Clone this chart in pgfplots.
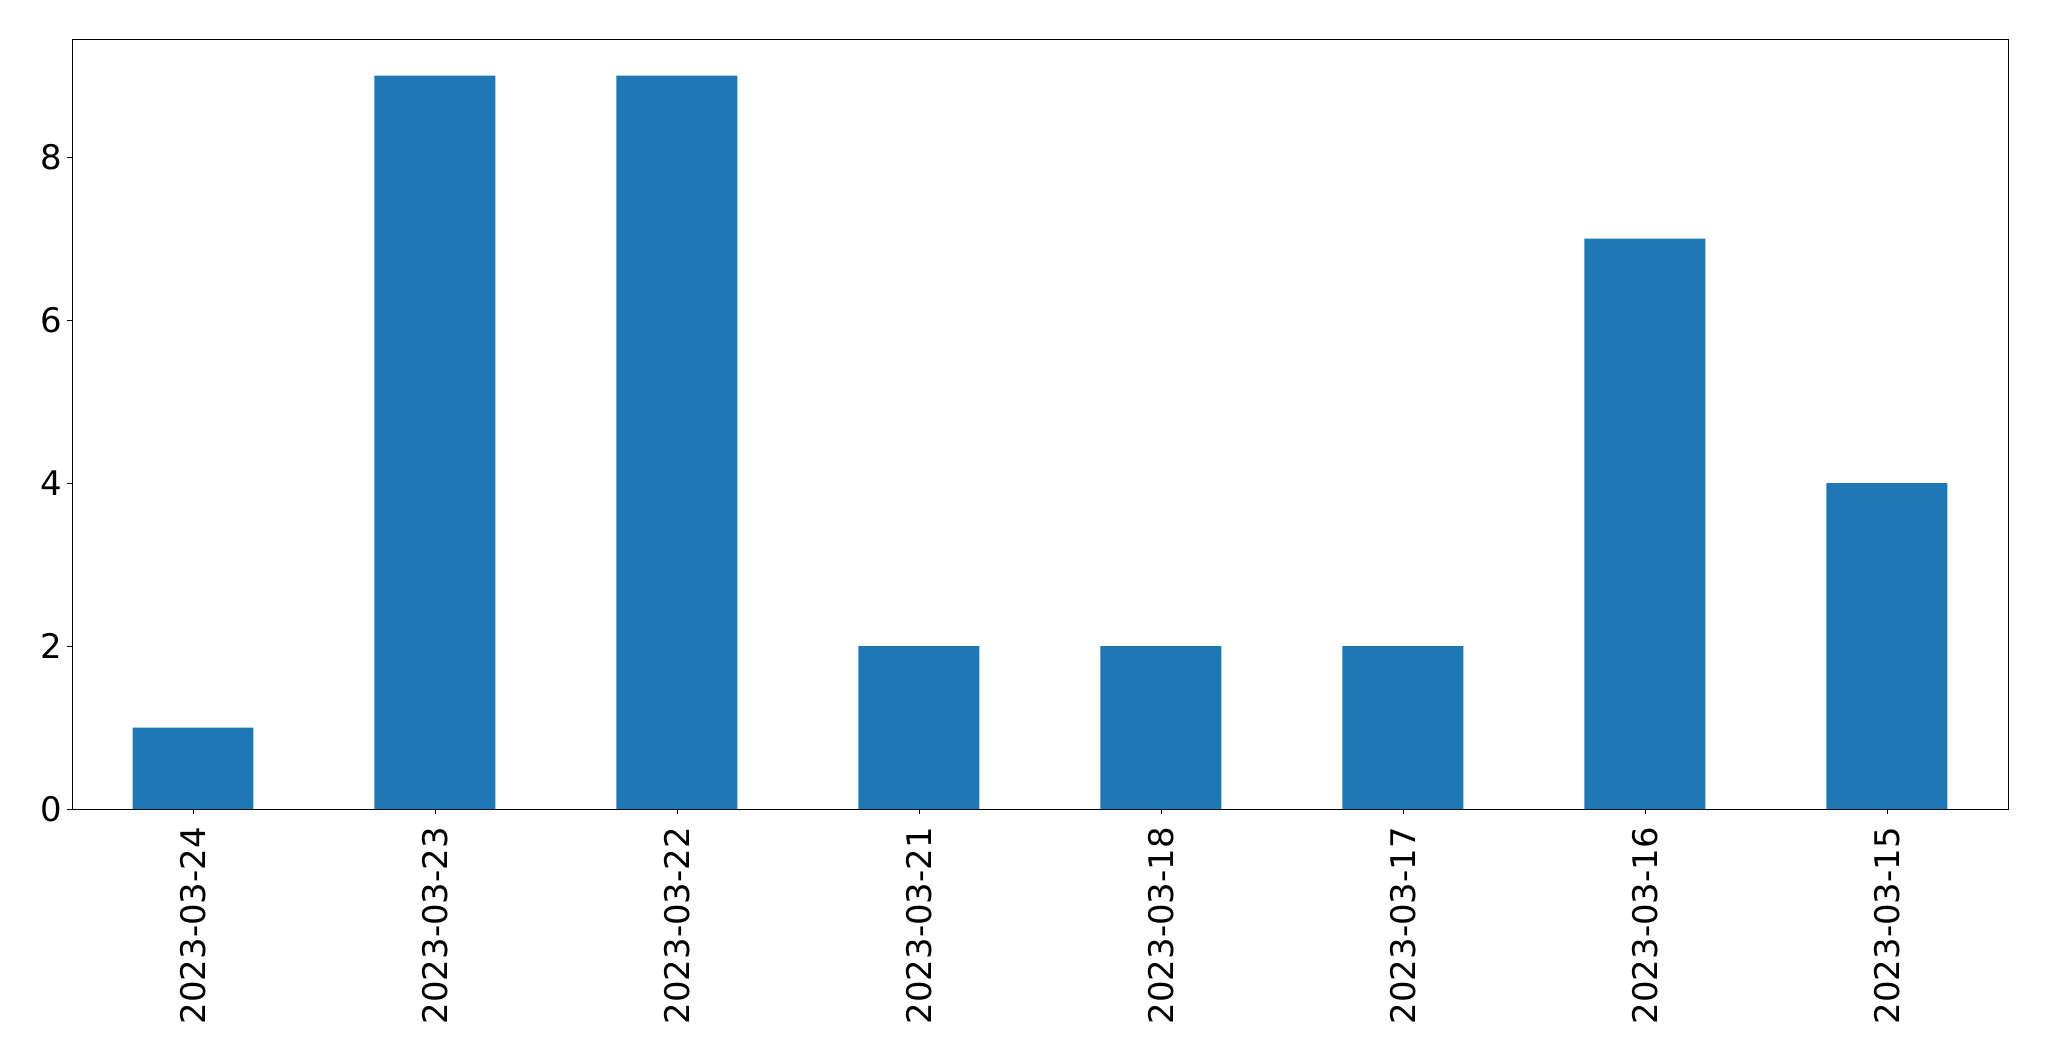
\documentclass[border=0pt]{standalone}
\usepackage{pgfplots}
\pgfplotsset{compat=1.18}
\usepackage{fontspec}
\setmainfont{DejaVu Sans}
\definecolor{mplblue}{HTML}{1F77B4}
\begin{document}
\begin{tikzpicture}
\path[use as bounding box] (-51.84bp,-181.44bp) rectangle (1423.4bp,582.48bp);
\begin{axis}[
  at={(0,0)}, anchor=south west,
  scale only axis,
  width=1393.9bp, height=554.4bp,
  xmin=-0.5, xmax=7.5, ymin=0, ymax=9.45,
  xtick={0,1,2,3,4,5,6,7},
  xticklabels={2023-03-24,2023-03-23,2023-03-22,2023-03-21,2023-03-18,2023-03-17,2023-03-16,2023-03-15},
  ytick={0,2,4,6,8},
  tick align=outside,
  major tick length=3.4bp,
  tick style={black, line width=0.6bp},
  axis line style={line width=0.6bp},
  xtick pos=bottom, ytick pos=left,
  /pgf/number format/assume math mode=true,
  ticklabel style={font=\fontsize{24.5}{29}\selectfont},
  xticklabel style={rotate=90, anchor=east, inner sep=0pt},
  xticklabel shift=9.5bp,
  yticklabel style={inner sep=0pt, xshift=-3.5bp},
  ybar, bar width=0.5,
]
\addplot[fill=mplblue, draw=none] coordinates {
 (0,1) (1,9) (2,9) (3,2) (4,2) (5,2) (6,7) (7,4)
};
\end{axis}
\end{tikzpicture}
\end{document}
